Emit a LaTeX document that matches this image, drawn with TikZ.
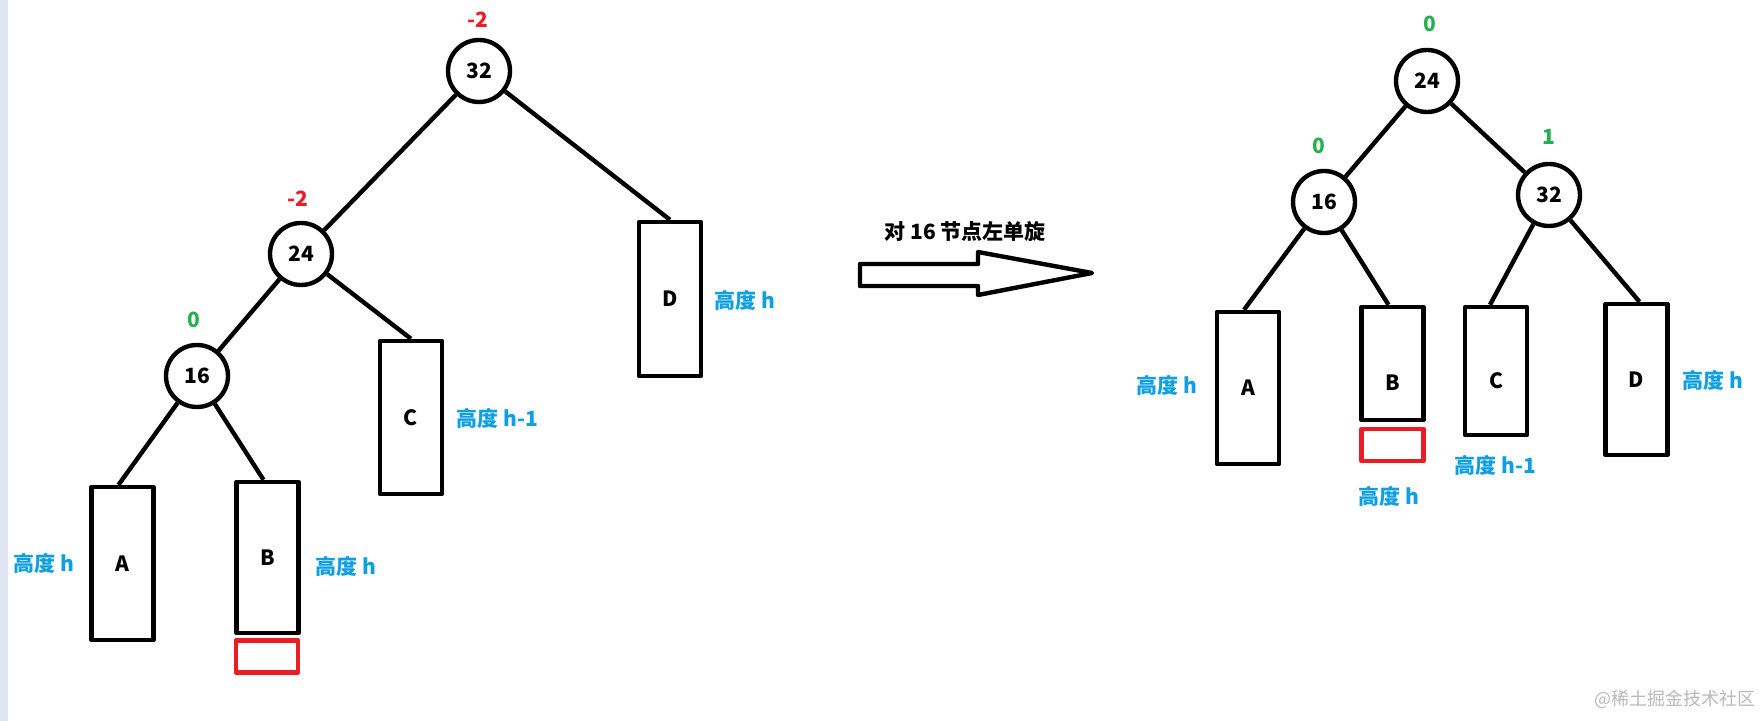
\documentclass[tikz,border=0pt]{standalone}
\usepackage{fontspec}
\setmainfont{Noto Sans CJK SC}
\usepackage{tikz}
\definecolor{balred}{RGB}{237,28,36}
\definecolor{balgreen}{RGB}{34,177,76}
\definecolor{hblue}{RGB}{16,160,226}
\definecolor{stripe}{RGB}{222,228,242}
\definecolor{markgray}{RGB}{185,185,185}

\begin{document}
\begin{tikzpicture}[x=0.5pt,y=-0.5pt,line join=round,font=\fontsize{10.5pt}{12pt}\selectfont\bfseries,
  num/.style={circle,draw,line width=2.2pt,minimum size=31pt,inner sep=0pt},
  sub/.style={rectangle,draw,line width=2.2pt,minimum width=31pt,inner sep=0pt},
  extra/.style={rectangle,draw=balred,line width=2.2pt,minimum width=31pt,minimum height=16pt,inner sep=0pt},
  hlab/.style={text=hblue,anchor=west,inner sep=0pt},
  edge/.style={line width=2.2pt}]
  \useasboundingbox (0,0) rectangle (1763,721);
  \fill[stripe] (0,0) rectangle (8,721);
  % before: 16 inserted under 24 under 32
  \node[num] (L32) at (479,71) {32}; \node[num] (L24) at (301,254) {24}; \node[num] (L16) at (197,376) {16};
  \node[balred] (Lf32) at (478,20) {-2}; \node[balred] (Lf24) at (298,199) {-2}; \node[balgreen] (Lf16) at (194,320) {0};
  \node[sub,minimum height=76.5pt] (LA) at (122.5,563.5) {A};
  \node[sub,minimum height=75.5pt] (LB) at (267.5,557.5) {B};
  \node[sub,minimum height=76.5pt] (LC) at (411,417.5) {C};
  \node[sub,minimum height=77pt] (LD) at (670,299) {D};
  \node[extra] (Lnew) at (267,656.5) {};
  \draw[edge] (L32) -- (L24); \draw[edge] (L32) -- (LD.north);
  \draw[edge] (L24) -- (L16); \draw[edge] (L24) -- (LC.north);
  \draw[edge] (L16) -- ([xshift=-2pt]LA.north); \draw[edge] (L16) -- ([xshift=-2pt]LB.north);
  \node[hlab] (LhA) at (13,563) {高度 h}; \node[hlab] (LhB) at (315,566) {高度 h};
  \node[hlab] (LhC) at (456,418) {高度 h-1}; \node[hlab] (LhD) at (714,300) {高度 h};
  % rotation arrow
  \coordinate (a1) at (860,264); \coordinate (a2) at (978,264); \coordinate (a3) at (978,252);
  \coordinate (tip) at (1092,273);
  \coordinate (a4) at (978,295); \coordinate (a5) at (978,286); \coordinate (a6) at (860,286);
  \draw[line width=2.2pt,miter limit=20] (a1)--(a2)--(a3)--(tip)--(a4)--(a5)--(a6)--cycle;
  \node (rot) at (965,232) {对 16 节点左单旋};
  % after
  \node[num] (R24) at (1427,81) {24}; \node[num] (R16) at (1324,202) {16}; \node[num] (R32) at (1549,195) {32};
  \node[balgreen] (Rf24) at (1430,24) {0}; \node[balgreen] (Rf16) at (1319,146) {0}; \node[balgreen] (Rf32) at (1549,137) {1};
  \node[sub,minimum height=76pt] (RA) at (1248,388) {A};
  \node[sub,minimum height=56.5pt,label={[yshift=-9.75pt]center:B}] (RB) at (1392.5,363.5) {};
  \node[extra] (Rnew) at (1392.5,445) {};
  \node[sub,minimum height=64pt,label={[yshift=-5pt]center:C}] (RC) at (1496,371) {};
  \node[sub,minimum height=75.5pt] (RD) at (1636.5,379.5) {D};
  \draw[edge] (R24) -- (R16); \draw[edge] (R24) -- (R32);
  \draw[edge] (R16) -- ([xshift=-2pt]RA.north); \draw[edge] (R16) -- ([xshift=-2pt]RB.north);
  \draw[edge] (R32) -- ([xshift=-3pt]RC.north); \draw[edge] (R32) -- ([xshift=1.5pt]RD.north);
  \node[hlab] (RhA) at (1136,385) {高度 h}; \node[hlab] (RhB) at (1358,496) {高度 h};
  \node[hlab] (RhC) at (1454,465) {高度 h-1}; \node[hlab] (RhD) at (1682,380) {高度 h};
  \node[text=markgray,font=\fontsize{9pt}{10pt}\selectfont] (mark) at (1675,699) {@稀土掘金技术社区};
\end{tikzpicture}
\end{document}
